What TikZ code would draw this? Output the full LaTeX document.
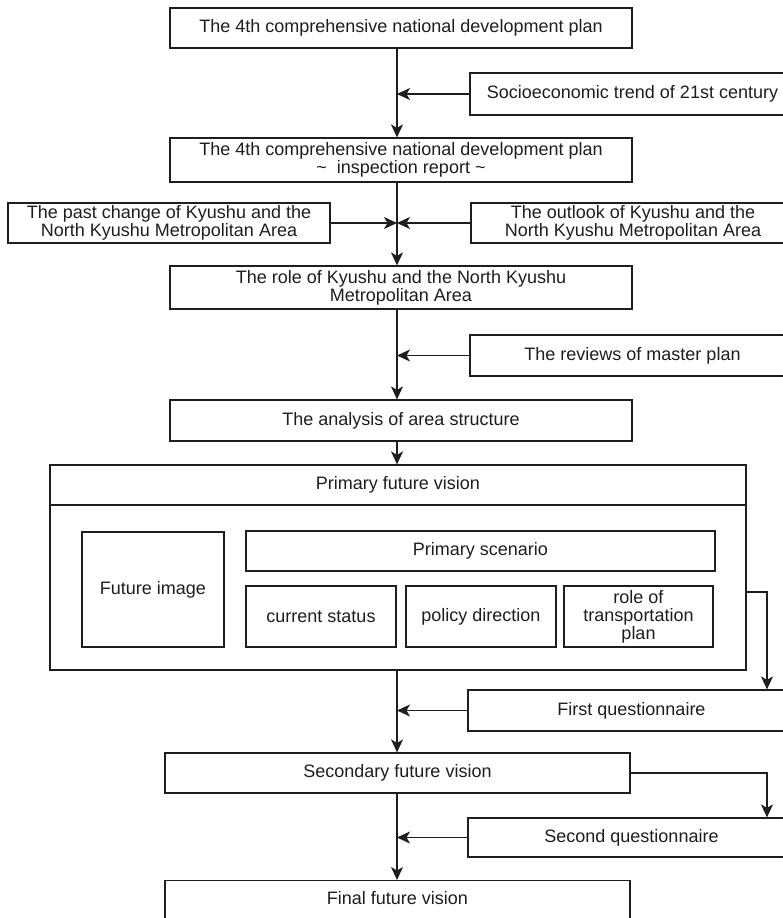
\documentclass[tikz,border=0pt]{standalone}
\usepackage{fontspec}
\setmainfont{Liberation Sans}
\usetikzlibrary{arrows.meta}

\definecolor{ink}{HTML}{1E1E1E}

\begin{document}
\begin{tikzpicture}[x=1pt,y=-1pt,
  every node/.style={font=\fontsize{18}{18}\selectfont, text=ink},
  box/.style={draw=ink, line width=1.2pt, inner sep=0pt, align=center},
  flow/.style={draw=ink, line width=1.3pt, -{Stealth[length=13pt,width=12pt,inset=3.5pt]}}
]
% page frame; the side boxes run off the right edge
\path[use as bounding box, clip] (0,0) rectangle (783,918);
\fill[white] (0,0) rectangle (783,918);

% main column
\node[box, minimum width=462, minimum height=40] (plan) at (401,28)
  {The 4th comprehensive national development plan};
\node[box, minimum width=462, minimum height=44] (report) at (401,160)
  {The 4th comprehensive national development plan\\\textasciitilde\ \ inspection report \textasciitilde};
\node[box, minimum width=462, minimum height=43] (role) at (401,287.5)
  {The role of Kyushu and the North Kyushu\\Metropolitan Area};
\node[box, minimum width=462, minimum height=41] (analysis) at (401,420.5)
  {The analysis of area structure};

% side inputs
\node[box, minimum width=325, minimum height=42] (trend) at (632.5,94)
  {Socioeconomic trend of 21st century};
\node[box, minimum width=322, minimum height=40] (past) at (169,223)
  {The past change of Kyushu and the\\North Kyushu Metropolitan Area};
\node[box, minimum width=324, minimum height=40] (outlook) at (633,223)
  {The outlook of Kyushu and the\\North Kyushu Metropolitan Area};
\node[box, minimum width=325, minimum height=41] (reviews) at (632.5,355.5)
  {The reviews of master plan};

% primary future vision block
\node[box, minimum width=696, minimum height=40] (visionhead) at (398,485)
  {Primary future vision};
\node[box, minimum width=696, minimum height=165] (visionbody) at (398,587.5) {};
\node[box, minimum width=142, minimum height=115] (image) at (153,589.5)
  {Future image};
\node[box, minimum width=469, minimum height=40] (scenario) at (480.5,551)
  {Primary scenario};
\node[box, minimum width=150, minimum height=61] (status) at (321,616.5)
  {current status};
\node[box, minimum width=150, minimum height=61] (policy) at (481,616.5)
  {policy direction};
\node[box, minimum width=149, minimum height=61] (transport) at (638.5,616.5)
  {role of\\transportation\\plan};

% questionnaires and later visions
\node[box, minimum width=327, minimum height=41] (q1) at (631.5,710.5)
  {First questionnaire};
\node[box, minimum width=465, minimum height=40] (second) at (397.5,773)
  {Secondary future vision};
\node[box, minimum width=327, minimum height=39] (q2) at (631.5,837.5)
  {Second questionnaire};
\node[box, minimum width=465, minimum height=70, anchor=north] (final) at (397.5,880) {};
\node (finaltext) at (397.5,898) {Final future vision};

% connectors
\coordinate (spine) at (397,0);
\coordinate (drop) at (767,0);
\coordinate (tap) at (0,592);

\draw[flow] (plan.south -| spine) -- (report.north -| spine);
\draw[flow] (trend.west) -- (trend.west -| spine);
\draw[flow] (report.south -| spine) -- (role.north -| spine);
\draw[flow] (past.east) -- (past.east -| spine);
\draw[flow] (outlook.west) -- (outlook.west -| spine);
\draw[flow] (role.south -| spine) -- (analysis.north -| spine);
\draw[flow] (reviews.west) -- (reviews.west -| spine);
\draw[flow] (analysis.south -| spine) -- (visionhead.north -| spine);
\draw[flow] (visionbody.south -| spine) -- (second.north -| spine);
\draw[flow] (q1.west) -- (q1.west -| spine);
\draw[flow] (second.south -| spine) -- (final.north -| spine);
\draw[flow] (q2.west) -- (q2.west -| spine);

% feedback to the questionnaires
\draw[flow] (visionbody.east |- tap) -| (q1.north -| drop);
\draw[flow] (second.east) -| (q2.north -| drop);
\end{tikzpicture}
\end{document}
